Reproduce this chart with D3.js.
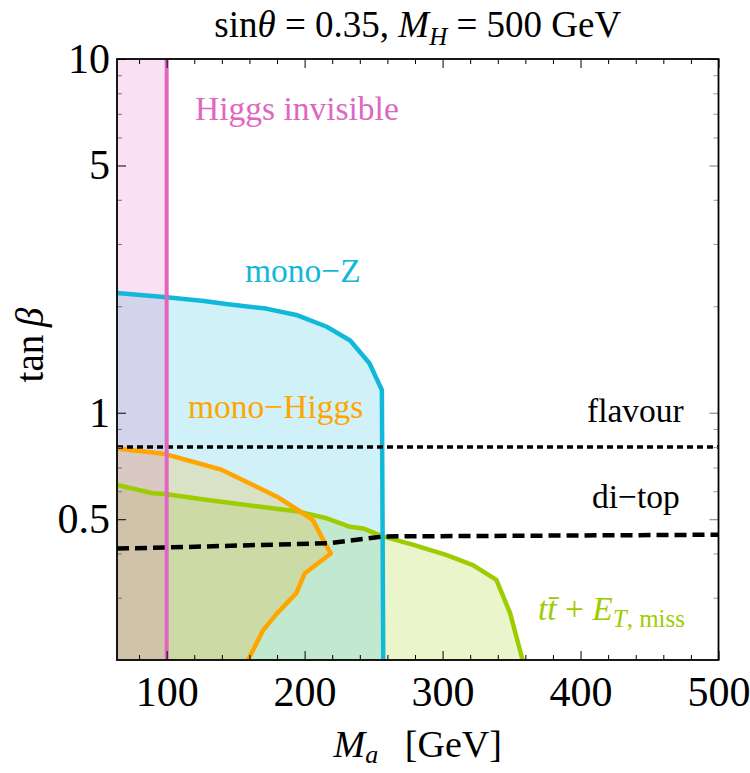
<!DOCTYPE html>
<html>
<head>
<meta charset="utf-8">
<script src="https://cdn.jsdelivr.net/npm/d3@7"></script>
<style>
  body { margin: 0; background: #fff; }
  svg { font-family: "Liberation Serif", "Times New Roman", serif; }
</style>
</head>
<body>
<div id="chart"></div>
<script>
// axis ranges and ticks
const xDomain = [64, 500];
const yDomain = [0.2, 10];
const xMajorTicks = [100, 200, 300, 400, 500];
const xMinorTicks = [80, 120, 140, 160, 180, 220, 240, 260, 280, 320, 340, 360, 380, 420, 440, 460, 480];
const yMajorTicks = [0.5, 1, 5, 10];
const yMinorTicks = [0.3, 0.4, 0.6, 0.7, 0.8, 0.9, 2, 3, 4, 6, 7, 8, 9];

// Higgs invisible: excluded below Ma = 100
const higgsInvMa = [100, 100];
const higgsInvTanb = [0.2, 10];

// mono-Z boundary
const monoZMa = [64, 100, 127, 143, 172, 194, 216, 233, 247, 256, 257];
const monoZTanb = [2.18, 2.12, 2.07, 2.03, 1.97, 1.89, 1.75, 1.6, 1.38, 1.16, 0.2];

// mono-Higgs boundary
const monoHiggsMa = [64, 99, 119, 139, 160, 180, 197, 206, 213.5, 219, 200, 194, 180, 170, 159];
const monoHiggsTanb = [0.793, 0.764, 0.727, 0.692, 0.632, 0.579, 0.525, 0.497, 0.437, 0.4, 0.351, 0.309, 0.271, 0.243, 0.2];

// tt + MET boundary
const ttMetMa = [64, 90, 99, 131, 168, 194, 216, 233, 242.5, 256, 279, 303, 322, 339, 349, 358];
const ttMetTanb = [0.625, 0.592, 0.589, 0.566, 0.542, 0.527, 0.503, 0.476, 0.471, 0.448, 0.423, 0.396, 0.371, 0.337, 0.271, 0.2];

// di-top and flavour limits
const diTopMa = [64, 100, 218, 251, 258, 500];
const diTopTanb = [0.413, 0.416, 0.428, 0.444, 0.447, 0.452];
const flavourMa = [64, 500];
const flavourTanb = [0.8, 0.8];

const width = 750, height = 773;
const pLeft = 117, pRight = 718.5, pTop = 59, pBottom = 660;

const x = d3.scaleLinear().domain(xDomain).range([pLeft, pRight]);
const y = d3.scaleLog().domain(yDomain).range([pBottom, pTop]);

const svg = d3.select("#chart").append("svg")
  .attr("width", width)
  .attr("height", height);

svg.append("defs").append("clipPath").attr("id", "clip")
  .append("rect")
  .attr("x", pLeft).attr("y", pTop)
  .attr("width", pRight - pLeft).attr("height", pBottom - pTop);

const plot = svg.append("g").attr("clip-path", "url(#clip)");

const zip = (xs, ys) => xs.map((v, i) => [v, ys[i]]);
const line = d3.line().x(d => x(d[0])).y(d => y(d[1]));
// region closed down to the bottom-left corner
const region = (xs, ys) => line(zip(xs, ys).concat([[xDomain[0], yDomain[0]]])) + "Z";

const pink = "#e066c0", cyan = "#12b8da", orange = "#ffa500", green = "#9dcc00";
const alpha = 0.2;

// fills (drawn in this order to get the overlap tints)
plot.append("path").attr("d", region(ttMetMa, ttMetTanb)).attr("fill", green).attr("fill-opacity", alpha);
plot.append("path").attr("d", region(monoZMa, monoZTanb)).attr("fill", cyan).attr("fill-opacity", alpha);
plot.append("path").attr("d", region(monoHiggsMa, monoHiggsTanb)).attr("fill", orange).attr("fill-opacity", alpha);
plot.append("rect")
  .attr("x", x(xDomain[0])).attr("y", y(higgsInvTanb[1]))
  .attr("width", x(higgsInvMa[0]) - x(xDomain[0]))
  .attr("height", y(higgsInvTanb[0]) - y(higgsInvTanb[1]))
  .attr("fill", pink).attr("fill-opacity", alpha);

// boundaries
const drawLine = (xs, ys, color, w, dash) => plot.append("path")
  .attr("d", line(zip(xs, ys)))
  .attr("fill", "none")
  .attr("stroke", color)
  .attr("stroke-width", w)
  .attr("stroke-linejoin", "round")
  .attr("stroke-dasharray", dash);

drawLine(ttMetMa, ttMetTanb, green, 4.5, null);
drawLine(monoHiggsMa, monoHiggsTanb, orange, 4.5, null);
drawLine(monoZMa, monoZTanb, cyan, 4.5, null);
drawLine(flavourMa, flavourTanb, "#000", 3.5, "6,4");
drawLine(diTopMa, diTopTanb, "#000", 4.5, "12,6");
drawLine(higgsInvMa, higgsInvTanb, pink, 4, null);

// frame ticks, all pointing inward
const tickStyle = g => {
  g.select(".domain").remove();
  g.selectAll("text").attr("font-size", 42).attr("fill", "#000")
    .attr("font-family", "Liberation Serif, serif");
};

svg.append("g").attr("transform", `translate(0,${pBottom})`)
  .call(d3.axisBottom(x).tickValues(xMajorTicks).tickSize(-9).tickPadding(16).tickFormat(d3.format("d")))
  .call(tickStyle);
svg.append("g").attr("transform", `translate(0,${pBottom})`)
  .call(d3.axisBottom(x).tickValues(xMinorTicks).tickSize(-5).tickFormat(""))
  .call(tickStyle);
svg.append("g").attr("transform", `translate(0,${pTop})`)
  .call(d3.axisTop(x).tickValues(xMajorTicks).tickSize(-9).tickFormat(""))
  .call(tickStyle);
svg.append("g").attr("transform", `translate(0,${pTop})`)
  .call(d3.axisTop(x).tickValues(xMinorTicks).tickSize(-5).tickFormat(""))
  .call(tickStyle);

svg.append("g").attr("transform", `translate(${pLeft},0)`)
  .call(d3.axisLeft(y).tickValues(yMajorTicks).tickSize(-9).tickPadding(7).tickFormat(d => String(d)))
  .call(tickStyle);
svg.append("g").attr("transform", `translate(${pLeft},0)`)
  .call(d3.axisLeft(y).tickValues(yMinorTicks).tickSize(-5).tickFormat(""))
  .call(tickStyle)
  .call(g => g.selectAll("line").attr("stroke", "#777"));
svg.append("g").attr("transform", `translate(${pRight},0)`)
  .call(d3.axisRight(y).tickValues(yMajorTicks).tickSize(-9).tickFormat(""))
  .call(tickStyle)
  .call(g => g.selectAll("line").attr("stroke", "#777"));
svg.append("g").attr("transform", `translate(${pRight},0)`)
  .call(d3.axisRight(y).tickValues(yMinorTicks).tickSize(-5).tickFormat(""))
  .call(tickStyle)
  .call(g => g.selectAll("line").attr("stroke", "#999"));

// frame
svg.append("rect")
  .attr("x", pLeft).attr("y", pTop)
  .attr("width", pRight - pLeft).attr("height", pBottom - pTop)
  .attr("fill", "none").attr("stroke", "#000").attr("stroke-width", 1.8);

// title
const title = svg.append("text")
  .attr("x", (pLeft + pRight) / 2).attr("y", 37)
  .attr("text-anchor", "middle").attr("font-size", 37);
title.append("tspan").text("sin");
title.append("tspan").attr("font-style", "italic").text("θ");
title.append("tspan").text(" = 0.35, ");
title.append("tspan").attr("font-style", "italic").text("M");
title.append("tspan").attr("font-style", "italic").attr("font-size", 25).attr("dy", 8).text("H");
title.append("tspan").attr("dy", -8).text(" = 500 GeV");

// axis titles
const xTitle = svg.append("text")
  .attr("x", (pLeft + pRight) / 2).attr("y", 757)
  .attr("text-anchor", "middle").attr("font-size", 38);
xTitle.append("tspan").attr("font-style", "italic").text("M");
xTitle.append("tspan").attr("font-style", "italic").attr("font-size", 26).attr("dy", 6).text("a");
xTitle.append("tspan").attr("dy", -6).text("\u2002\u2009[GeV]");

const yTitle = svg.append("text")
  .attr("transform", "translate(43,345) rotate(-90)")
  .attr("text-anchor", "middle").attr("font-size", 39);
yTitle.append("tspan").text("tan\u2009");
yTitle.append("tspan").attr("font-style", "italic").text("β");

// region labels
const label = (tx, ty, color) => svg.append("text")
  .attr("x", tx).attr("y", ty).attr("font-size", 33.5).attr("fill", color);

label(195, 120, pink).text("Higgs invisible");
label(245, 282, cyan).text("mono\u2212Z");
label(188, 418, orange).text("mono\u2212Higgs");
label(587, 422, "#000").text("flavour");
label(592, 508, "#000").text("di\u2212top");

const tt = label(538, 620, green);
tt.append("tspan").attr("font-style", "italic").text("tt\u0304");
tt.append("tspan").text(" + ");
tt.append("tspan").attr("font-style", "italic").text("E");
tt.append("tspan").attr("font-style", "italic").attr("font-size", 25).attr("dy", 7).text("T");
tt.append("tspan").attr("font-size", 25).text(", miss");
</script>
</body>
</html>
